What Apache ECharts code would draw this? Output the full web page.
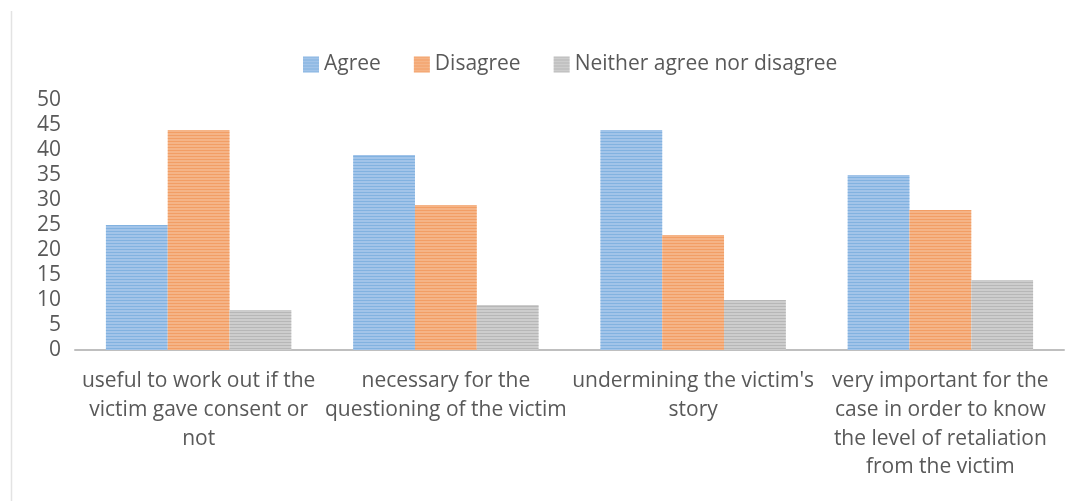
<!DOCTYPE html>
<html>
<head>
<meta charset="utf-8">
<script src="https://cdn.jsdelivr.net/npm/echarts@6/dist/echarts.min.js"></script>
<style>
  html, body { margin: 0; padding: 0; background: #ffffff; }
  #chart { width: 1078px; height: 501px; }
</style>
</head>
<body>
<div id="chart"></div>
<script>
// Survey statements (x axis), with the wrapped line breaks used under the axis
const categories = [
  'useful to work out if the\nvictim gave consent or\nnot',
  'necessary for the\nquestioning of the victim',
  "undermining the victim's\nstory",
  'very important for the\ncase in order to know\nthe level of retaliation\nfrom the victim'
];
const seriesNames = ['Agree', 'Disagree', 'Neither agree nor disagree'];
const agree = [25, 39, 44, 35];
const disagree = [44, 29, 23, 28];
const neither = [8, 9, 10, 14];
const yTicks = { min: 0, max: 50, interval: 5 };

const fills = ['#a2c4e9', '#f5b487', '#cdcdcd'];
const stripes = ['rgba(91,155,213,0.45)', 'rgba(237,125,49,0.40)', 'rgba(150,150,150,0.40)'];
const textColor = '#595959';
const fontFamily = '"Open Sans", "Noto Sans", sans-serif';

function makeSeries(name, data, i) {
  return {
    name: name,
    type: 'bar',
    data: data,
    barGap: '0%',
    barCategoryGap: '25%',
    itemStyle: {
      color: fills[i],
      decal: {
        symbol: 'rect',
        symbolSize: 1,
        dashArrayX: [1, 0],
        dashArrayY: [1, 2],
        rotation: 0,
        color: stripes[i]
      }
    }
  };
}

const chart = echarts.init(document.getElementById('chart'), null, { renderer: 'canvas' });
chart.setOption({
  animation: false,
  backgroundColor: '#ffffff',
  aria: { enabled: true, decal: { show: true } },
  legend: {
    top: 49,
    left: 298,
    itemWidth: 16,
    itemHeight: 16,
    itemGap: 33,
    icon: 'rect',
    textStyle: { color: textColor, fontSize: 21, fontFamily: fontFamily },
    data: seriesNames
  },
  grid: { left: 75, right: 14, top: 100, bottom: 151, containLabel: false },
  xAxis: {
    type: 'category',
    data: categories,
    axisLine: { show: true, lineStyle: { color: '#bfbfbf', width: 2 } },
    axisTick: { show: false },
    axisLabel: {
      interval: 0,
      color: textColor,
      fontSize: 21,
      fontFamily: fontFamily,
      lineHeight: 28.7,
      margin: 17,
      align: 'center'
    }
  },
  yAxis: {
    type: 'value',
    min: yTicks.min,
    max: yTicks.max,
    interval: yTicks.interval,
    axisLine: { show: false },
    axisTick: { show: false },
    splitLine: { show: false },
    axisLabel: { color: textColor, fontSize: 21, fontFamily: fontFamily, margin: 14 }
  },
  graphic: [{
    type: 'line',
    shape: { x1: 11.5, y1: 11, x2: 11.5, y2: 501 },
    style: { stroke: '#e3e3e3', lineWidth: 1.5 },
    silent: true
  }],
  series: [
    makeSeries(seriesNames[0], agree, 0),
    makeSeries(seriesNames[1], disagree, 1),
    makeSeries(seriesNames[2], neither, 2)
  ]
});
</script>
</body>
</html>
